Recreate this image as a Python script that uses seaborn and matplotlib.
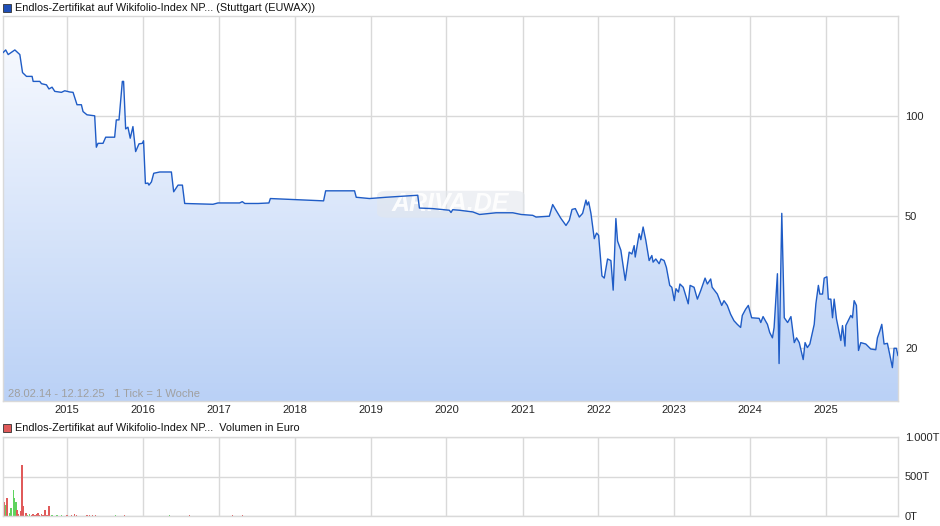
import numpy as np
import pandas as pd
import matplotlib
matplotlib.use("Agg")
import matplotlib.pyplot as plt
from matplotlib.patches import FancyBboxPatch, Rectangle
import seaborn as sns

# --- Kursdaten (Endlos-Zertifikat, Stuttgart) ---
price_dates = [
    "2014-02-28", "2014-03-13", "2014-03-25", "2014-04-26", "2014-05-20", "2014-06-02", "2014-06-21",
    "2014-07-18", "2014-07-23", "2014-08-24", "2014-09-01", "2014-09-25", "2014-10-07", "2014-10-22",
    "2014-11-04", "2014-12-06", "2014-12-22", "2015-01-15", "2015-01-31", "2015-02-19", "2015-03-12",
    "2015-03-20", "2015-04-08", "2015-05-15", "2015-05-23", "2015-05-31", "2015-06-24", "2015-07-07",
    "2015-08-19", "2015-08-27", "2015-09-09", "2015-09-25", "2015-10-01", "2015-10-11", "2015-10-22",
    "2015-11-02", "2015-11-15", "2015-11-28", "2015-12-14", "2015-12-30", "2016-01-05", "2016-01-14",
    "2016-01-26", "2016-01-31", "2016-02-12", "2016-02-23", "2016-03-23", "2016-05-18", "2016-05-29",
    "2016-06-19", "2016-07-10", "2016-07-21", "2016-12-04", "2016-12-28", "2017-04-11", "2017-04-24",
    "2017-05-06", "2017-07-09", "2017-08-30", "2017-09-06", "2018-01-01", "2018-05-20", "2018-05-30",
    "2018-10-16", "2018-10-24", "2018-12-27", "2019-03-17", "2019-08-16", "2019-08-24", "2019-10-27",
    "2020-01-15", "2020-01-23", "2020-01-31", "2020-03-04", "2020-05-07", "2020-06-08", "2020-08-27",
    "2020-11-15", "2020-12-25", "2021-02-19", "2021-03-07", "2021-05-10", "2021-05-26", "2021-06-11",
    "2021-07-05", "2021-07-29", "2021-08-14", "2021-08-27", "2021-09-12", "2021-10-01", "2021-10-17",
    "2021-11-02", "2021-11-08", "2021-11-15", "2021-11-26", "2021-12-12", "2021-12-23", "2022-01-02",
    "2022-01-18", "2022-01-29", "2022-02-14", "2022-03-02", "2022-03-13", "2022-03-26", "2022-04-03",
    "2022-04-19", "2022-05-10", "2022-05-29", "2022-06-11", "2022-06-22", "2022-06-27", "2022-07-16",
    "2022-07-24", "2022-08-04", "2022-08-17", "2022-09-02", "2022-09-15", "2022-09-21", "2022-10-04",
    "2022-10-20", "2022-10-29", "2022-11-13", "2022-11-24", "2022-12-10", "2022-12-20", "2023-01-01",
    "2023-01-09", "2023-01-21", "2023-01-28", "2023-02-13", "2023-02-26", "2023-03-09", "2023-03-18",
    "2023-04-06", "2023-04-22", "2023-05-08", "2023-05-29", "2023-06-09", "2023-06-25", "2023-07-02",
    "2023-07-27", "2023-08-17", "2023-08-28", "2023-09-13", "2023-09-29", "2023-10-15", "2023-10-31",
    "2023-11-16", "2023-11-24", "2023-12-10", "2023-12-23", "2024-01-08", "2024-02-13", "2024-02-21",
    "2024-03-03", "2024-03-24", "2024-04-04", "2024-04-17", "2024-04-25", "2024-05-11", "2024-05-19",
    "2024-06-01", "2024-06-13", "2024-06-29", "2024-07-15", "2024-07-31", "2024-08-11", "2024-08-24",
    "2024-09-12", "2024-09-21", "2024-10-02", "2024-10-14", "2024-11-04", "2024-11-12", "2024-11-24",
    "2024-12-01", "2024-12-14", "2024-12-22", "2025-01-04", "2025-01-11", "2025-01-23", "2025-01-31",
    "2025-02-08", "2025-02-19", "2025-03-12", "2025-03-20", "2025-04-01", "2025-04-05", "2025-04-29",
    "2025-05-07", "2025-05-15", "2025-05-26", "2025-06-05", "2025-06-16", "2025-07-10", "2025-08-03",
    "2025-08-27", "2025-09-04", "2025-09-15", "2025-09-25", "2025-10-06", "2025-10-22", "2025-11-02",
    "2025-11-15", "2025-11-23", "2025-12-04", "2025-12-12",
]
price_values = [
    155, 158, 153, 158, 153, 135, 131.5,
    131.5, 127, 127, 125, 124, 120.5, 122,
    118.5, 117.7, 119, 118, 117.7, 108, 108,
    103, 100.7, 100, 80.4, 82.6, 82.6, 86.2,
    86.2, 97.2, 97.2, 127, 127, 91.3, 92.4,
    85.6, 92.8, 78, 82.3, 82.6, 84.1, 62.5,
    62.7, 61.8, 63.2, 67.1, 67.7, 67.7, 59,
    61.8, 61.8, 54.4, 54.1, 54.6, 54.6, 55.1,
    54.4, 54.4, 54.6, 56.3, 55.9, 55.4, 59.4,
    59.4, 56.8, 56.3, 56.8, 57.6, 52.7, 52.5,
    51.9, 51.1, 52.1, 51.9, 51.3, 50.4, 51,
    51, 50.4, 50.1, 49.5, 49.8, 54, 51.9,
    49, 46.7, 48.4, 52.2, 52.5, 49.5, 50.8,
    55.7, 53.8, 55, 50.8, 42.6, 44.3, 43.6,
    32.9, 32.4, 37, 36.6, 29.8, 49, 41.9,
    39.3, 31.9, 38.8, 38.3, 40.6, 37.5, 44.1,
    42.3, 46.2, 42.1, 36.6, 37.9, 36.2, 37,
    35.8, 37, 36.6, 34.9, 30.8, 30.4, 27.7,
    30.1, 29.4, 31.1, 30.4, 28.6, 27.1, 30.8,
    30.4, 28, 29.7, 32.4, 31.1, 32.2, 30.4,
    29, 26.8, 27.7, 26.8, 25.2, 24.1, 23.5,
    23, 25, 26.1, 26.8, 24.6, 24.5, 23.8,
    24.8, 23.5, 22.2, 21.4, 23, 33.4, 17.9,
    50.8, 24.6, 23.8, 24.8, 20.7, 21.4, 20.7,
    18.4, 20.7, 20, 20.5, 23.5, 27.1, 30.8,
    29, 29, 32.4, 32.7, 28, 28, 24.6,
    28, 24.4, 21, 23.3, 20.2, 23.3, 25,
    24.6, 27.7, 26.8, 19.6, 20.7, 20.5, 19.8,
    19.7, 21.4, 22.4, 23.5, 20.5, 20.6, 19.1,
    17.4, 19.9, 19.9, 18.9,
]

# --- Umsatz (Volumen in Tausend Euro) ---
vol_dates = [
    "2014-02-28", "2014-03-04", "2014-03-13", "2014-03-20", "2014-03-30", "2014-04-07", "2014-04-18",
    "2014-04-23", "2014-05-01", "2014-05-07", "2014-05-15", "2014-05-23", "2014-05-30", "2014-06-05",
    "2014-06-15", "2014-06-19", "2014-06-27", "2014-07-07", "2014-07-16", "2014-07-23", "2014-08-01",
    "2014-08-08", "2014-08-16", "2014-08-24", "2014-09-01", "2014-09-09", "2014-09-18", "2014-09-28",
    "2014-10-07", "2014-10-19", "2014-10-24", "2014-11-15", "2014-12-06", "2015-01-02", "2015-01-23",
    "2015-02-08", "2015-02-16", "2015-04-08", "2015-04-21", "2015-05-04", "2015-05-20", "2015-08-24",
    "2015-10-06", "2016-05-10", "2016-08-14", "2017-03-08", "2017-04-26",
]
vol_values = [
    148, 177, 135, 224, 34, 105, 325,
    224, 177, 72, 21, 63, 641, 127,
    21, 34, 17, 21, 12, 21, 12,
    21, 38, 12, 25, 12, 76, 12,
    122, 12, 12, 8, 12, 8, 8,
    21, 12, 8, 8, 8, 8, 12,
    12, 12, 8, 8, 8,
]
vol_dir = [
    "flat", "down", "up", "down", "up", "up", "up",
    "up", "up", "down", "down", "down", "down", "down",
    "down", "down", "up", "up", "down", "down", "down",
    "down", "down", "down", "down", "down", "down", "down",
    "down", "up", "up", "up", "up", "down", "down",
    "down", "down", "down", "down", "down", "down", "up",
    "down", "up", "down", "down", "down",
]

price = pd.DataFrame({"date": pd.to_datetime(price_dates), "kurs": price_values})
vol = pd.DataFrame({"date": pd.to_datetime(vol_dates), "volumen": vol_values, "dir": vol_dir})
dir_colors = {"up": "#5fd35f", "down": "#e05a5a", "flat": "#b8b8b8"}

sns.set_theme(style="white")
plt.rcParams["font.family"] = ["Liberation Sans", "DejaVu Sans"]

line_col = "#1f5cc6"
grid_col = "#d9d9d9"
start, end = pd.Timestamp("2014-02-28"), pd.Timestamp("2025-12-12")
years = [pd.Timestamp(f"{y}-01-01") for y in range(2015, 2026)]

fig = plt.figure(figsize=(9.4, 5.26), dpi=100)
ax = fig.add_axes([3 / 940, 1 - 401 / 526, 895 / 940, 385 / 526])
axv = fig.add_axes([3 / 940, 1 - 516 / 526, 895 / 940, 79 / 526])

# --- Kurschart ---
ax.set_yscale("log")
ax.set_xlim(start, end)
ax.set_ylim(13.8, 200)

# Flaeche unter der Kurve mit vertikalem Farbverlauf
poly = ax.fill_between(price["date"], price["kurs"], 1, color="none", lw=0)
grad = np.linspace(0, 1, 256).reshape(-1, 1)
top_c = np.array([251, 252, 255]) / 255
bot_c = np.array([186, 209, 246]) / 255
img = top_c + (bot_c - top_c) * grad[:, :, None]
im = ax.imshow(img, extent=[0, 1, 0, 1], transform=ax.transAxes, aspect="auto", zorder=1)
im.set_clip_path(poly.get_paths()[0], ax.transData)

sns.lineplot(data=price, x="date", y="kurs", ax=ax, color=line_col, lw=1.0, zorder=3)
ax.set_xlim(start, end)
ax.set_ylim(13.8, 200)

ax.set_xticks(years)
ax.set_xticklabels([str(d.year) for d in years], fontsize=8)
ax.yaxis.tick_right()
ax.set_yticks([20, 50, 100])
ax.set_yticklabels(["20", "50", "100"], fontsize=8)
ax.yaxis.set_minor_locator(matplotlib.ticker.NullLocator())
ax.tick_params(length=0, pad=3)
ax.tick_params(axis="y", pad=5)
ax.grid(True, color=grid_col, lw=1, zorder=0)
ax.set_axisbelow(True)
ax.set_xlabel("")
ax.set_ylabel("")
for s in ax.spines.values():
    s.set_color(grid_col)
    s.set_linewidth(1)

# Wasserzeichen
wm = FancyBboxPatch((0.418, 0.476), 0.165, 0.07, boxstyle="round,pad=0,rounding_size=0.012",
                    transform=ax.transAxes, fc="#e3e7ed", ec="none", alpha=0.6, zorder=2)
ax.add_patch(wm)
ax.text(0.5, 0.511, "ARIVA.DE", transform=ax.transAxes, ha="center", va="center",
        fontsize=18, fontweight="bold", style="italic", color="white", alpha=0.9, zorder=2)

ax.text(0.006, 0.004, "28.02.14 - 12.12.25   1 Tick = 1 Woche", transform=ax.transAxes,
        fontsize=8, color="#a0a0a0", ha="left", va="bottom", zorder=4)

# --- Volumen ---
axv.bar(vol["date"], vol["volumen"], width=6.5, color=vol["dir"].map(dir_colors).tolist(),
        lw=0, zorder=2)
axv.set_xlim(start, end)
axv.set_ylim(0, 1000)
axv.set_xticks(years)
axv.set_xticklabels([])
axv.yaxis.tick_right()
axv.set_yticks([0, 500, 1000])
axv.set_yticklabels(["0T", "500T", "1.000T"], fontsize=8)
axv.tick_params(length=0, pad=5)
axv.grid(True, color=grid_col, lw=1, zorder=0)
axv.set_axisbelow(True)
for s in axv.spines.values():
    s.set_color(grid_col)
    s.set_linewidth(1)

# --- Legenden oben links ---
fig.patches.append(Rectangle((3 / 940, 1 - 12 / 526), 8 / 940, 8 / 526, transform=fig.transFigure,
                             fc="#1f4fb8", ec="#333333", lw=0.6, figure=fig))
fig.text(15 / 940, 1 - 8 / 526, "Endlos-Zertifikat auf Wikifolio-Index NP... (Stuttgart (EUWAX))",
         fontsize=7.8, va="center", ha="left", color="#111111")
fig.patches.append(Rectangle((3 / 940, 1 - 432 / 526), 8 / 940, 8 / 526, transform=fig.transFigure,
                             fc="#e05a5a", ec="#333333", lw=0.6, figure=fig))
fig.text(15 / 940, 1 - 428 / 526, "Endlos-Zertifikat auf Wikifolio-Index NP...  Volumen in Euro",
         fontsize=7.8, va="center", ha="left", color="#111111")

fig.savefig("out.png", dpi=100, facecolor="white")
